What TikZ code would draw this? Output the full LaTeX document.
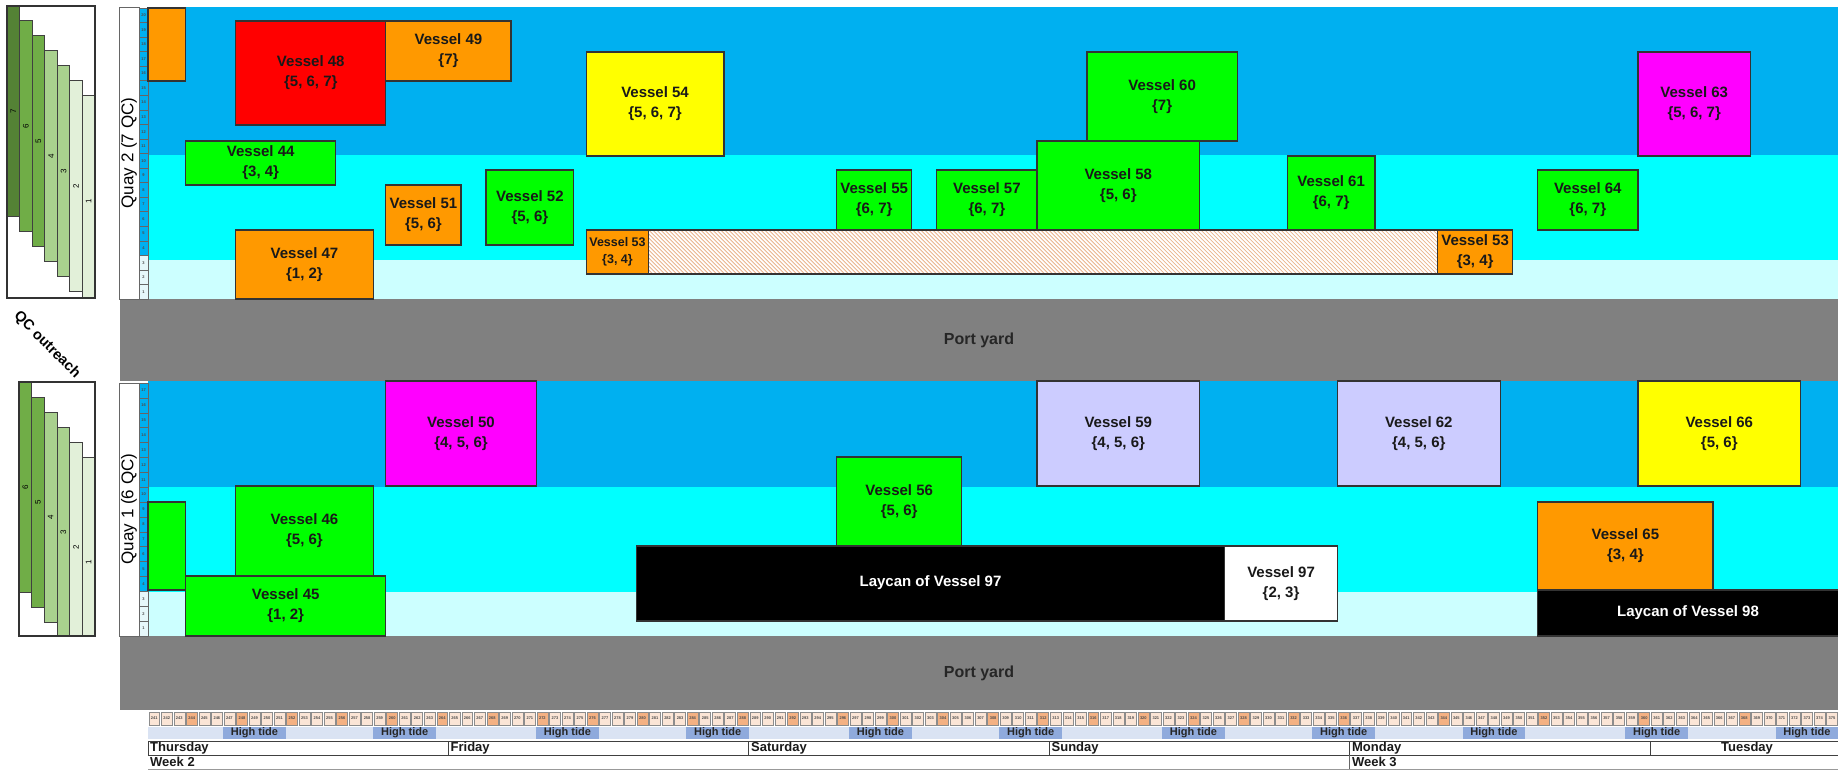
\documentclass[tikz,border=0pt]{standalone}
\usepackage{fontspec}
\setmainfont{Liberation Sans}

\definecolor{bandtop}{HTML}{00B0F0}
\definecolor{bandmid}{HTML}{00FFFF}
\definecolor{bandlow}{HTML}{CCFFFF}
\definecolor{yard}{HTML}{808080}
\definecolor{vorange}{HTML}{FF9900}
\definecolor{vred}{HTML}{FF0000}
\definecolor{vgreen}{HTML}{00FF00}
\definecolor{vyellow}{HTML}{FFFF00}
\definecolor{vmagenta}{HTML}{FF00FF}
\definecolor{vlav}{HTML}{CCCCFF}
\definecolor{hatch}{HTML}{E9B48C}
\definecolor{tickcell}{HTML}{FBE5D6}
\definecolor{tickmark}{HTML}{F4B183}
\definecolor{tidelow}{HTML}{DAE3F3}
\definecolor{tidehigh}{HTML}{8FAADC}
\definecolor{rulerlow}{HTML}{E6F7FA}
\definecolor{qcA}{HTML}{548235}
\definecolor{qcB}{HTML}{70AD47}
\definecolor{qcC}{HTML}{A9D18E}
\definecolor{qcD}{HTML}{E2F0D9}

% hour column -> x
\newcommand{\hx}[1]{148+(#1)*12.52}
% name, from hour, top, to hour, bottom, colour, text
\newcommand{\vessel}[7]{%
  \draw[vbox,fill=#6] ({\hx{#2}},#3) rectangle ({\hx{#4}},#5);
  \node[vtext] (#1) at ({(\hx{#2}+\hx{#4})/2},{(#3+#5)/2}) {#7};
}

\begin{document}
\begin{tikzpicture}[x=1pt,y=-1pt,
  vbox/.style={draw=black!80,line width=1.2pt},
  vtext/.style={font=\fontsize{15}{20}\selectfont\bfseries,align=center,text=black!90},
  laytext/.style={font=\fontsize{15}{20}\selectfont\bfseries,text=white},
  yardtext/.style={font=\fontsize{16}{19}\selectfont\bfseries,text=black!85},
  tinytext/.style={font=\fontsize{4}{4}\selectfont\bfseries,text=black!70,inner sep=0pt},
  rulercell/.style={draw=black!60,line width=0.5pt},
  tidetext/.style={font=\fontsize{11}{12}\selectfont\bfseries,text=black!85},
  daybox/.style={draw=black!75,line width=1pt,fill=white},
  daytext/.style={font=\fontsize{13}{14}\selectfont\bfseries,text=black!90,inner sep=1pt}]
\useasboundingbox (0,0) rectangle (1838,770);
\clip (0,0) rectangle (1838,770);
\fill[white] (0,0) rectangle (1838,770);

% berth bands
\fill[bandtop] (148,7) rectangle (1838,155);
\fill[bandmid] (148,155) rectangle (1838,260);
\fill[bandlow] (148,260) rectangle (1838,299);
\fill[bandtop] (148,381) rectangle (1838,487);
\fill[bandmid] (148,487) rectangle (1838,592);
\fill[bandlow] (148,592) rectangle (1838,636);

% port yards
\fill[yard] (120,299) rectangle (1838,381);
\node[yardtext] (yardA) at (979,340) {Port yard};
\fill[yard] (120,636) rectangle (1838,710);
\node[yardtext] (yardB) at (979,673) {Port yard};

% quay labels and rulers
\draw[rulercell,line width=1pt,fill=white] (119,8) rectangle (139,299);
\node[rotate=90,font=\fontsize{17}{18}\selectfont] (quayB) at (129,153) {Quay 2 (7 QC)};
\draw[rulercell,line width=1pt,fill=white] (119,383) rectangle (139,636);
\node[rotate=90,font=\fontsize{17}{18}\selectfont] (quayA) at (129,509) {Quay 1 (6 QC)};
\foreach \k in {1,...,20} {
  \pgfmathsetmacro\yt{299-\k*14.55}
  \ifnum\k<4 \def\rc{rulerlow}\else\def\rc{bandtop}\fi
  \draw[rulercell,fill=\rc] (139,\yt) rectangle (148,{\yt+14.55});
  \node[tinytext] (rB\k) at (143.5,{\yt+7.3}) {\k};
}
\foreach \k in {1,...,17} {
  \pgfmathsetmacro\yt{636-\k*14.88}
  \ifnum\k<4 \def\rc{rulerlow}\else\def\rc{bandtop}\fi
  \draw[rulercell,fill=\rc] (139,\yt) rectangle (148,{\yt+14.88});
  \node[tinytext] (rA\k) at (143.5,{\yt+7.4}) {\k};
}

% QC outreach panels
\begin{scope}
\clip (7,6) rectangle (95,298);
\foreach \k/\col in {7/qcA,6/qcB,5/qcB,4/qcC,3/qcC,2/qcD,1/qcD} {
  \pgfmathsetmacro\xl{7+(7-\k)*12.57}
  \pgfmathsetmacro\yt{6+(7-\k)*15}
  \draw[draw=black!75,line width=1pt,fill=\col] (\xl,\yt) rectangle ({\xl+12.57},{\yt+210});
  \node[rotate=90,font=\fontsize{8}{8}\selectfont,inner sep=0pt] (oB\k) at ({\xl+6.3},{\yt+105}) {\k};
}
\end{scope}
\draw[draw=black!80,line width=1.2pt] (7,6) rectangle (95,298);
\begin{scope}
\clip (19,382) rectangle (95,636);
\foreach \k/\col in {6/qcB,5/qcB,4/qcC,3/qcC,2/qcD,1/qcD} {
  \pgfmathsetmacro\xl{19+(6-\k)*12.67}
  \pgfmathsetmacro\yt{382+(6-\k)*15}
  \draw[draw=black!75,line width=1pt,fill=\col] (\xl,\yt) rectangle ({\xl+12.67},{\yt+210});
  \node[rotate=90,font=\fontsize{8}{8}\selectfont,inner sep=0pt] (oA\k) at ({\xl+6.3},{\yt+105}) {\k};
}
\end{scope}
\draw[draw=black!80,line width=1.2pt] (19,382) rectangle (95,636);
\node[rotate=-45,font=\fontsize{14.5}{16}\selectfont\bfseries] (qcout) at (47,345) {QC outreach};

% quay 2 vessels
\vessel{qBx}{0}{8}{3}{81}{vorange}{}
\vessel{v48}{7}{21}{19}{125}{vred}{Vessel 48\\\{5, 6, 7\}}
\vessel{v49}{19}{21}{29}{81}{vorange}{Vessel 49\\\{7\}}
\vessel{v44}{3}{141}{15}{185}{vgreen}{Vessel 44\\\{3, 4\}}
\vessel{v47}{7}{230}{18}{299}{vorange}{Vessel 47\\\{1, 2\}}
\vessel{v51}{19}{185}{25}{245}{vorange}{Vessel 51\\\{5, 6\}}
\vessel{v52}{27}{170}{34}{245}{vgreen}{Vessel 52\\\{5, 6\}}
\vessel{v54}{35}{52}{46}{156}{vyellow}{Vessel 54\\\{5, 6, 7\}}
\vessel{v55}{55}{170}{61}{230}{vgreen}{Vessel 55\\\{6, 7\}}
\vessel{v57}{63}{170}{71}{230}{vgreen}{Vessel 57\\\{6, 7\}}
\vessel{v58}{71}{141}{84}{230}{vgreen}{Vessel 58\\\{5, 6\}}
\vessel{v60}{75}{52}{87}{141}{vgreen}{Vessel 60\\\{7\}}
\vessel{v61}{91}{156}{98}{230}{vgreen}{Vessel 61\\\{6, 7\}}
\vessel{v64}{111}{170}{119}{230}{vgreen}{Vessel 64\\\{6, 7\}}
\vessel{v63}{119}{52}{128}{156}{vmagenta}{Vessel 63\\\{5, 6, 7\}}
% vessel 53 with its waiting span
\fill[white] ({\hx{40}},230) rectangle ({\hx{103}},274);
\begin{scope}
\clip ({\hx{40}},230) rectangle ({\hx{103}},274);
\foreach \k in {-48,-44,...,800} {
  \draw[hatch,line width=0.8pt] ({\hx{40}+\k},230) -- ++(44,44);
}
\end{scope}
\draw[vbox] ({\hx{35}},230) rectangle ({\hx{109}},274);
\draw[vbox,fill=vorange] ({\hx{35}},230) rectangle ({\hx{40}},274);
\node[vtext,font=\fontsize{12.5}{17}\selectfont\bfseries] (v53a) at ({\hx{37.5}},252) {Vessel 53\\\{3, 4\}};
\vessel{v53b}{103}{230}{109}{274}{vorange}{Vessel 53\\\{3, 4\}}

% quay 1 vessels
\vessel{qAx}{0}{502}{3}{590}{vgreen}{}
\vessel{v46}{7}{486}{18}{576}{vgreen}{Vessel 46\\\{5, 6\}}
\vessel{v45}{3}{576}{19}{636}{vgreen}{Vessel 45\\\{1, 2\}}
\vessel{v50}{19}{381}{31}{486}{vmagenta}{Vessel 50\\\{4, 5, 6\}}
\vessel{v56}{55}{457}{65}{546}{vgreen}{Vessel 56\\\{5, 6\}}
\draw[vbox,fill=black] ({\hx{39}},546) rectangle ({\hx{86}},621);
\node[laytext] (lay97) at ({\hx{62.5}},583) {Laycan of Vessel 97};
\vessel{v97}{86}{546}{95}{621}{white}{Vessel 97\\\{2, 3\}}
\vessel{v59}{71}{381}{84}{486}{vlav}{Vessel 59\\\{4, 5, 6\}}
\vessel{v62}{95}{381}{108}{486}{vlav}{Vessel 62\\\{4, 5, 6\}}
\vessel{v66}{119}{381}{132}{486}{vyellow}{Vessel 66\\\{5, 6\}}
\vessel{v65}{111}{502}{125}{590}{vorange}{Vessel 65\\\{3, 4\}}
\draw[vbox,fill=black] ({\hx{111}},590) rectangle (1845,636);
\node[laytext] (lay98) at (1688,613) {Laycan of Vessel 98};

% hours
\foreach \i in {0,...,134} {
  \pgfmathtruncatemacro\hr{241+\i}
  \pgfmathtruncatemacro\mk{and(mod(\hr,4)==0,or(\hr<337,mod(\hr,8)==0))}
  \ifnum\mk=1 \def\tc{tickmark}\else\def\tc{tickcell}\fi
  \draw[draw=black!45,line width=0.5pt,fill=\tc] ({\hx{\i}+0.8},712) rectangle ({\hx{\i+1}-0.8},725);
  \node[tinytext] (h\hr) at ({\hx{\i+0.5}},718.5) {\hr};
}
% tides
\fill[tidelow] (148,727) rectangle (1838,739);
\foreach \a in {6,18,31,43,56,68,81,93,105,118,130} {
  \fill[tidehigh] ({\hx{\a}},727) rectangle ({\hx{\a+5}},739);
  \node[tidetext] (tide\a) at ({\hx{\a+2.5}},733) {High tide};
}
% days and weeks
\foreach \d/\dname in {0/Thursday,1/Friday,2/Saturday,3/Sunday,4/Monday} {
  \draw[daybox] ({\hx{24*\d}},741) rectangle ({\hx{24*\d+24}},755);
  \node[daytext,anchor=west] (day\d) at ({\hx{24*\d}+1},748) {\dname};
}
\draw[daybox] ({\hx{120}},741) rectangle (1845,755);
\node[daytext] (day5) at (1747,748) {Tuesday};
\draw[black!40,line width=1pt] (148,769) -- (1838,769);
\draw[black!60,line width=1pt] ({\hx{96}},755) -- ({\hx{96}},769);
\node[daytext,anchor=west] (weekA) at (149,762) {Week 2};
\node[daytext,anchor=west] (weekB) at ({\hx{96}+1},762) {Week 3};
\end{tikzpicture}
\end{document}
